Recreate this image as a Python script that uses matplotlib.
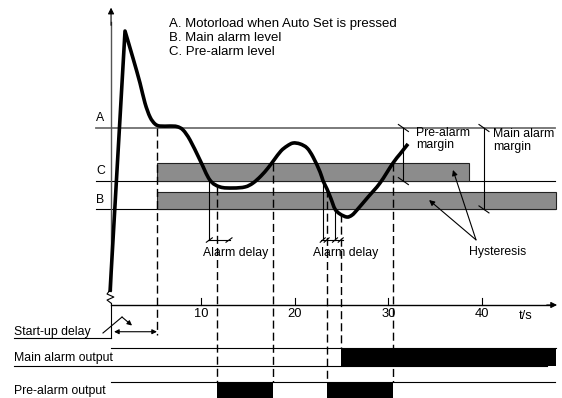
import numpy as np
import matplotlib
matplotlib.use('Agg')
import matplotlib.pyplot as plt
from matplotlib.path import Path
from matplotlib.patches import PathPatch

plt.rcParams['font.family'] = ['Liberation Sans', 'DejaVu Sans']
plt.rcParams['lines.scale_dashes'] = False

# motor load (% of load at Auto Set) vs time (s)
curve_t = [0.29, 1.89, 2.74, 3.49, 4.02, 4.56, 5.09, 5.62, 6.69, 7.44, 8.08, 8.83,
           9.89, 10.95, 12.03, 13.42, 14.70, 15.55, 16.40, 17.15, 17.79, 18.53,
           19.18, 19.82, 20.57, 21.32, 21.96, 22.71, 23.03, 23.45, 23.88, 24.30,
           24.84, 25.58, 26.12, 26.65, 27.83, 29.10, 30.49, 31.24, 32.09]
curve_load = [7.3, 154.8, 139.5, 125.4, 114.1, 106.2, 102.3, 101.1, 101.1, 100.8, 98.9, 93.2,
              81.9, 70.6, 66.7, 66.1, 66.7, 68.9, 72.9, 77.4, 81.9, 87.0,
              89.8, 91.5, 91.0, 88.7, 83.6, 75.1, 70.1, 65.5, 59.9, 54.2,
              51.4, 49.7, 50.8, 53.7, 61.0, 68.9, 80.2, 85.3, 91.0]

level_A = 100      # motorload when Auto Set is pressed
level_C = 70       # pre-alarm level
level_B = 54       # main alarm level
hyst = 10

t_startup = 5.3
t_pre_cross = [10.89, 22.99]      # load falls below C
t_main_cross = 24.30              # load falls below B
pre_on = [11.68, 23.41]
pre_off = [17.68, 30.52]
main_on = 24.91
pre_bar_end = 38.6
t_end = 47.9

ticks = [10, 20, 30, 40]
legend_lines = ["A. Motorload when Auto Set is pressed",
                "B. Main alarm level",
                "C. Pre-alarm level"]

# drawing scale (pixels per second / per % load)
sx, sy = 9.37, 1.77
axis_t = 0.4
y_main = (-34.5, -24.5)
y_pre = (-52.5, -43.3)
y_dim = 36.7

fig = plt.figure(figsize=(5.62, 3.98), dpi=100)
ax = fig.add_axes([0, 0, 1, 1])
ax.set_xlim(-107.3 / sx, (562 - 107.3) / sx)
ax.set_ylim(-93 / sy, 305 / sy)
ax.axis('off')

k = dict(color='black', lw=0.8)
dash = dict(color='black', lw=1.0, dashes=(5.8, 2.9))
arr = dict(color='black', lw=0.8, shrinkA=0, shrinkB=0)
fs = 8.8


def slash(t, y, dx, dy):
    ax.plot([t - dx / sx, t + dx / sx], [y - dy / sy, y + dy / sy], **k)


# level lines
ax.plot([-1.2, 47.8], [level_A, level_A], color='#707070', lw=1.3)
ax.plot([-1.2, 47.8], [level_C, level_C], **k)
ax.plot([-1.2, 47.8], [level_B, level_B], **k)
for lab, lv in zip(['A', 'C', 'B'], [level_A, level_C, level_B]):
    ax.text(-1.2, lv + 2.2, lab, fontsize=fs, va='bottom', ha='left')

# hysteresis bars
ax.barh(level_C + hyst / 2, pre_bar_end - t_startup, left=t_startup, height=hyst,
        color='#8c8c8c', edgecolor='#222222', lw=0.8, zorder=2)
ax.barh(level_B + hyst / 2, t_end - t_startup, left=t_startup, height=hyst,
        color='#8c8c8c', edgecolor='#222222', lw=0.8, zorder=2)

# axes
ax.plot([axis_t, axis_t], [8.5, 160], color='#555555', lw=1.0)
ax.annotate('', xy=(axis_t, 168), xytext=(axis_t, 158),
            arrowprops=dict(arrowstyle='-|>', mutation_scale=9, **arr))
ax.plot([axis_t, t_end - 0.6], [0, 0], color='black', lw=1.0)
ax.annotate('', xy=(t_end + 0.1, 0), xytext=(t_end - 1.0, 0),
            arrowprops=dict(arrowstyle='-|>', mutation_scale=9, **arr))
for tk in ticks:
    ax.plot([tk, tk], [0, 4], **k)
    ax.text(tk, -5.1, str(tk), fontsize=fs + 0.5, ha='center', va='center')
ax.text(44.6, -6.4, 't/s', fontsize=fs + 0.5, ha='center', va='center')

# broken-axis zigzag and start-up marker
zz_t = [0.29, -0.03, 0.70, -0.03, 0.39]
zz_y = [8.5, 6.2, 4.5, 2.8, 1.1]
ax.plot(zz_t, zz_y, **k)
ax.plot([axis_t, axis_t], [1.1, -18.8], **k)
ax.plot([-9.96, axis_t], [-18.8, -18.8], **k)
ax.text(-9.96, -16.9, 'Start-up delay', fontsize=fs, va='baseline')
ax.annotate('', xy=(0.72, -15.1), xytext=(t_startup, -15.1),
            arrowprops=dict(arrowstyle='<|-|>', mutation_scale=7, **arr))
ax.plot([-0.46, 1.57], [-15.8, -6.8], **k)
ax.annotate('', xy=(2.64, -11.6), xytext=(1.57, -6.8),
            arrowprops=dict(arrowstyle='-|>', mutation_scale=7, **arr))

# motor load curve: straight rise to the peak, smooth after it
P = np.column_stack([curve_t, curve_load])
verts = [P[0], P[1]]
codes = [Path.MOVETO, Path.LINETO]
n = len(P)
for i in range(1, n - 1):
    prev = P[i - 1] if i > 1 else P[i]
    nxt2 = P[i + 2] if i + 2 < n else P[i + 1]
    c1 = P[i] + (P[i + 1] - prev) / 6
    c2 = P[i + 1] - (nxt2 - P[i]) / 6
    verts += [c1, c2, P[i + 1]]
    codes += [Path.CURVE4] * 3
ax.add_patch(PathPatch(Path(verts, codes), fill=False, edgecolor='black', lw=2.6,
                       joinstyle='round', capstyle='butt', zorder=5))

# dashed event lines
ax.plot([t_startup, t_startup], [level_A, -16.9], **dash)
ax.plot([pre_on[0]] * 2, [66.7, y_pre[1]], **dash, zorder=3)
ax.plot([pre_off[0]] * 2, [level_C + hyst, y_pre[1]], **dash, zorder=3)
ax.plot([pre_on[1]] * 2, [65.5, y_pre[1]], **dash, zorder=3)
ax.plot([main_on] * 2, [51.4, y_main[1]], **dash, zorder=3)
ax.plot([pre_off[1]] * 2, [level_C + hyst, y_pre[1]], **dash, zorder=3)

# alarm delay markers
ax.plot([t_pre_cross[0]] * 2, [level_C, y_dim], **k, zorder=3)
ax.plot([t_pre_cross[1]] * 2, [level_C, y_dim], **k, zorder=3)
ax.plot([t_main_cross] * 2, [level_B, y_dim], **k, zorder=3)
ax.plot([10.75, 13.1], [y_dim, y_dim], **k)
slash(t_pre_cross[0], y_dim, 3, 2.2)
slash(12.99, y_dim, 3, 2.2)
ax.plot([22.8, 25.2], [y_dim, y_dim], **k)
for tt in [t_pre_cross[1], pre_on[1], t_main_cross, main_on]:
    slash(tt, y_dim, 2.5, 2.2)
ax.text(13.65, 29.4, 'Alarm delay', fontsize=fs, ha='center', va='center')
ax.text(25.4, 29.4, 'Alarm delay', fontsize=fs, ha='center', va='center')

# margins
ax.plot([31.6, 31.6], [level_A, level_C], **k)
slash(31.6, level_A, 5, -3.5)
slash(31.6, level_C, 5, -3.5)
ax.text(32.95, 93.8, 'Pre-alarm\nmargin', fontsize=fs, va='center', ha='left',
        linespacing=1.05)
ax.plot([40.2, 40.2], [level_A, level_B], **k)
slash(40.2, level_A, 5, -3.5)
slash(40.2, level_B, 5, -3.5)
ax.text(41.16, 93.0, 'Main alarm\nmargin', fontsize=fs, va='center', ha='left',
        linespacing=1.05)

# hysteresis arrows
ax.text(41.7, 29.9, 'Hysteresis', fontsize=fs, ha='center', va='center')
for tip in [(34.34, 59.3), (36.89, 76.3)]:
    ax.annotate('', xy=tip, xytext=(39.35, 36.8),
                arrowprops=dict(arrowstyle='-|>', mutation_scale=8, **arr), zorder=6)

# output rows
ax.plot([axis_t, t_end], [y_main[1]] * 2, **k)
ax.plot([-9.96, 46.9], [y_main[0]] * 2, **k)
ax.broken_barh([(main_on, t_end - main_on)], (y_main[0], y_main[1] - y_main[0]),
               facecolors='black')
ax.text(-9.96, -31.6, 'Main alarm output', fontsize=fs, va='baseline')
ax.plot([axis_t, 47.8], [y_pre[1]] * 2, **k)
ax.broken_barh([(a, b - a) for a, b in zip(pre_on, pre_off)],
               (y_pre[0], y_pre[1] - y_pre[0]), facecolors='black')
ax.text(-9.96, -50.5, 'Pre-alarm output', fontsize=fs, va='baseline')

# legend text
for i, s in enumerate(legend_lines):
    ax.text(6.6, 156.9 - i * 7.9, s, fontsize=9.5, va='baseline')

fig.savefig('out.png', dpi=100)
